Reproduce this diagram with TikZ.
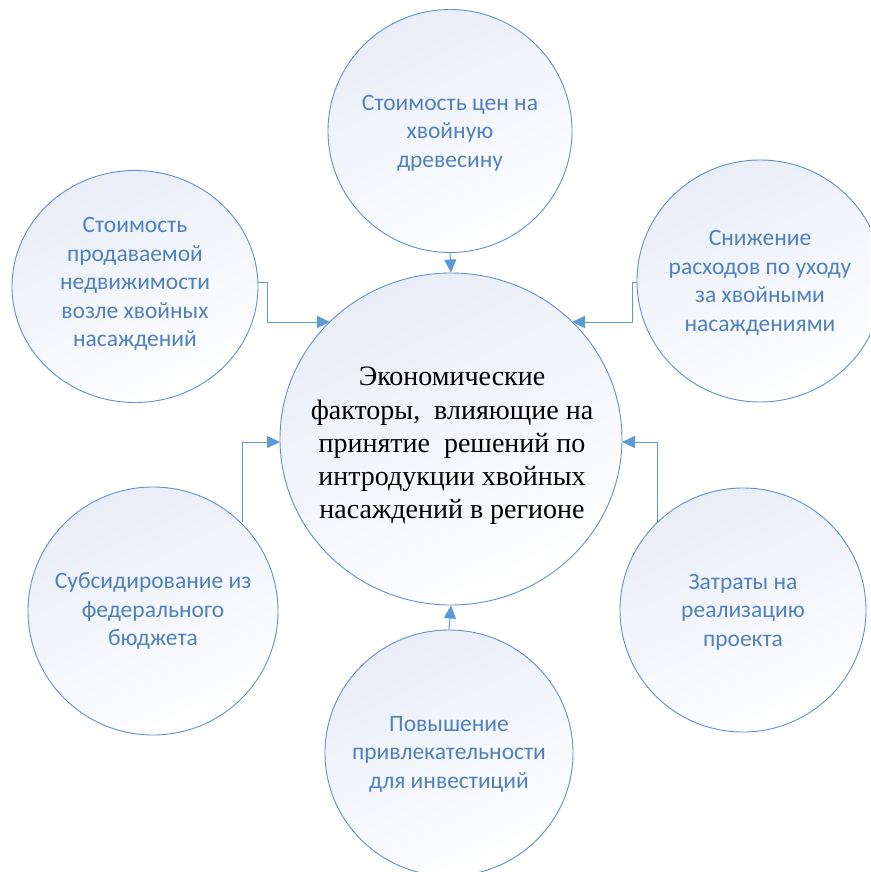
\documentclass[tikz,border=0pt]{standalone}
\usepackage{fontspec}
\setmainfont{Liberation Serif}
\newfontfamily\satfont{Carlito}
\usetikzlibrary{shapes.geometric,arrows.meta}
\definecolor{rimblue}{RGB}{96,145,205}
\definecolor{linkblue}{RGB}{91,155,213}
\definecolor{txtblue}{RGB}{79,129,189}
\definecolor{fillblue}{RGB}{232,237,247}
\tikzset{
  bubble/.style={ellipse,draw=rimblue,line width=0.9pt,inner sep=0pt,
    shading=axis,top color=fillblue,bottom color=white,shading angle=25},
  sattext/.style={align=center,text=txtblue,font=\satfont\fontsize{23.5}{28.5}\selectfont},
  centtext/.style={align=center,text=black,font=\fontsize{28}{33.2}\selectfont},
  link/.style={draw=linkblue,line width=1pt,-{Triangle[length=13pt,width=12pt]}}
}
\begin{document}
\begin{tikzpicture}[x=1pt,y=-1pt]
\useasboundingbox (0,0) rectangle (870,872);
\clip (0,0) rectangle (870,872);
\fill[white] (0,0) rectangle (870,872);
% bubbles
\node[bubble,minimum width=244pt,minimum height=243pt] (top) at (450,131) {};
\node[bubble,minimum width=246pt,minimum height=232pt] (ul) at (135,286.5) {};
\node[bubble,minimum width=246pt,minimum height=242pt] (ur) at (760,281) {};
\node[bubble,minimum width=250pt,minimum height=248pt] (ll) at (153,611) {};
\node[bubble,minimum width=246pt,minimum height=244pt] (lr) at (743,610) {};
\node[bubble,minimum width=248pt,minimum height=246pt] (bot) at (449,753) {};
\node[bubble,minimum width=342pt,minimum height=332pt] (c) at (451,439) {};
% texts
\node[sattext] (ttop) at (450,133) {Стоимость цен на\\хвойную\\древесину};
\node[sattext] (tul) at (135,284) {Стоимость\\продаваемой\\недвижимости\\возле хвойных\\насаждений};
\node[sattext] (tur) at (760,283) {Снижение\\расходов по уходу\\за хвойными\\насаждениями};
\node[sattext] (tll) at (153,611) {Субсидирование из\\федерального\\бюджета};
\node[sattext] (tlr) at (743,612) {Затраты на\\реализацию\\проекта};
\node[sattext] (tbot) at (449,754) {Повышение\\привлекательности\\для инвестиций};
\node[centtext] (tc) at (452,446) {Экономические\\факторы,\ \ влияющие на\\принятие\ \ решений по\\интродукции хвойных\\насаждений в регионе};
% connectors
\coordinate (ulout) at (258,282);
\coordinate (urout) at (637,282);
\coordinate (llout) at (242,522);
\coordinate (lrout) at (657,522);
\coordinate (cul) at (330,322);
\coordinate (cur) at (572,322);
\coordinate (cll) at (280,442);
\coordinate (clr) at (622,442);
\draw[link] (top.south) -- (c.north);
\draw[link] (bot.north) -- (c.south);
\draw[link] (ulout) -- ++(9,0) |- (cul);
\draw[link] (urout) -- ++(-5,0) |- (cur);
\draw[link] (llout) |- (cll);
\draw[link] (lrout) |- (clr);
\end{tikzpicture}
\end{document}
